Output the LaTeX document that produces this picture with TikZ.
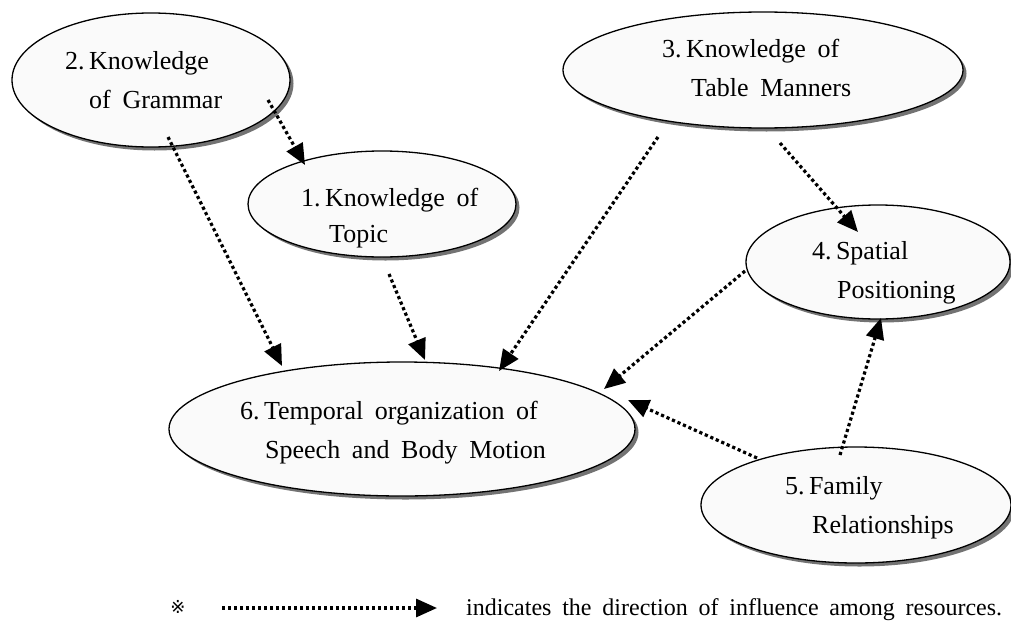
\documentclass[tikz,border=0pt]{standalone}
\usepackage{fontspec}
\setmainfont{Liberation Serif}[WordSpace=1.8]
\newfontfamily\symfont{DejaVu Sans}
\usetikzlibrary{arrows.meta,shapes.geometric,shadows}
\begin{document}
\begin{tikzpicture}[x=1pt,y=-1pt,
  bubble/.style={ellipse,draw=black,line width=1.3pt,fill=black!2,inner sep=0pt,
    drop shadow={shadow xshift=3.5pt,shadow yshift=-3.5pt,fill=black!55,opacity=1}},
  lbl/.style={anchor=base west,inner sep=0pt,font=\fontsize{26}{30}\selectfont},
  infl/.style={line width=3.2pt,dash pattern=on 3.2pt off 2.8pt,
    -{Triangle[length=21pt,width=18pt]}}]
\useasboundingbox (0,0) rectangle (1011,621);
% ellipses
\node[bubble,minimum width=278pt,minimum height=134pt] (e2) at (151,80) {};
\node[bubble,minimum width=268pt,minimum height=106pt] (e1) at (382,204) {};
\node[bubble,minimum width=400pt,minimum height=116pt] (e3) at (763,70) {};
\node[bubble,minimum width=264pt,minimum height=114pt] (e4) at (878,262) {};
\node[bubble,minimum width=466pt,minimum height=134pt] (e6) at (402,429) {};
\node[bubble,minimum width=310pt,minimum height=116pt] (e5) at (856,505) {};
% labels
\node[lbl] (t2a) at (65,69) {2.\,Knowledge};
\node[lbl] (t2b) at (89,108) {of Grammar};
\node[lbl] (t1a) at (301,206) {1.\,Knowledge of};
\node[lbl] (t1b) at (329,242) {Topic};
\node[lbl] (t3a) at (662,57) {3.\,Knowledge of};
\node[lbl] (t3b) at (691,96) {Table Manners};
\node[lbl] (t4a) at (812,259) {4.\,Spatial};
\node[lbl] (t4b) at (837,298) {Positioning};
\node[lbl] (t6a) at (240,419) {6.\,Temporal organization of};
\node[lbl] (t6b) at (265,458) {Speech and Body Motion};
\node[lbl] (t5a) at (785,494) {5.\,Family};
\node[lbl] (t5b) at (812,533) {Relationships};
% connector ends
\coordinate (s21) at (268,100); \coordinate (h21) at (305,165);
\coordinate (s26) at (168,137); \coordinate (h26) at (282,366);
\coordinate (s16) at (389,274); \coordinate (h16) at (425,360);
\coordinate (s36) at (658,137); \coordinate (h36) at (499,371);
\coordinate (s34) at (780,143); \coordinate (h34) at (858,232);
\coordinate (s46) at (745,271); \coordinate (h46) at (604,389);
\coordinate (s56) at (757,458); \coordinate (h56) at (628,400);
\coordinate (s54) at (840,455); \coordinate (h54) at (881,318);
\draw[infl] (s21) -- (h21);
\draw[infl] (s26) -- (h26);
\draw[infl] (s16) -- (h16);
\draw[infl] (s36) -- (h36);
\draw[infl] (s34) -- (h34);
\draw[infl] (s46) -- (h46);
\draw[infl] (s56) -- (h56);
\draw[infl] (s54) -- (h54);
% legend
\node[inner sep=0pt,font=\symfont\fontsize{18}{20}\selectfont] (ref) at (178,607) {※};
\coordinate (ls) at (222,608); \coordinate (le) at (437,608);
\draw[infl] (ls) -- (le);
\node[lbl,font=\fontsize{24}{28}\selectfont] (leg) at (466,615) {indicates the direction of influence among resources.};
\end{tikzpicture}
\end{document}
